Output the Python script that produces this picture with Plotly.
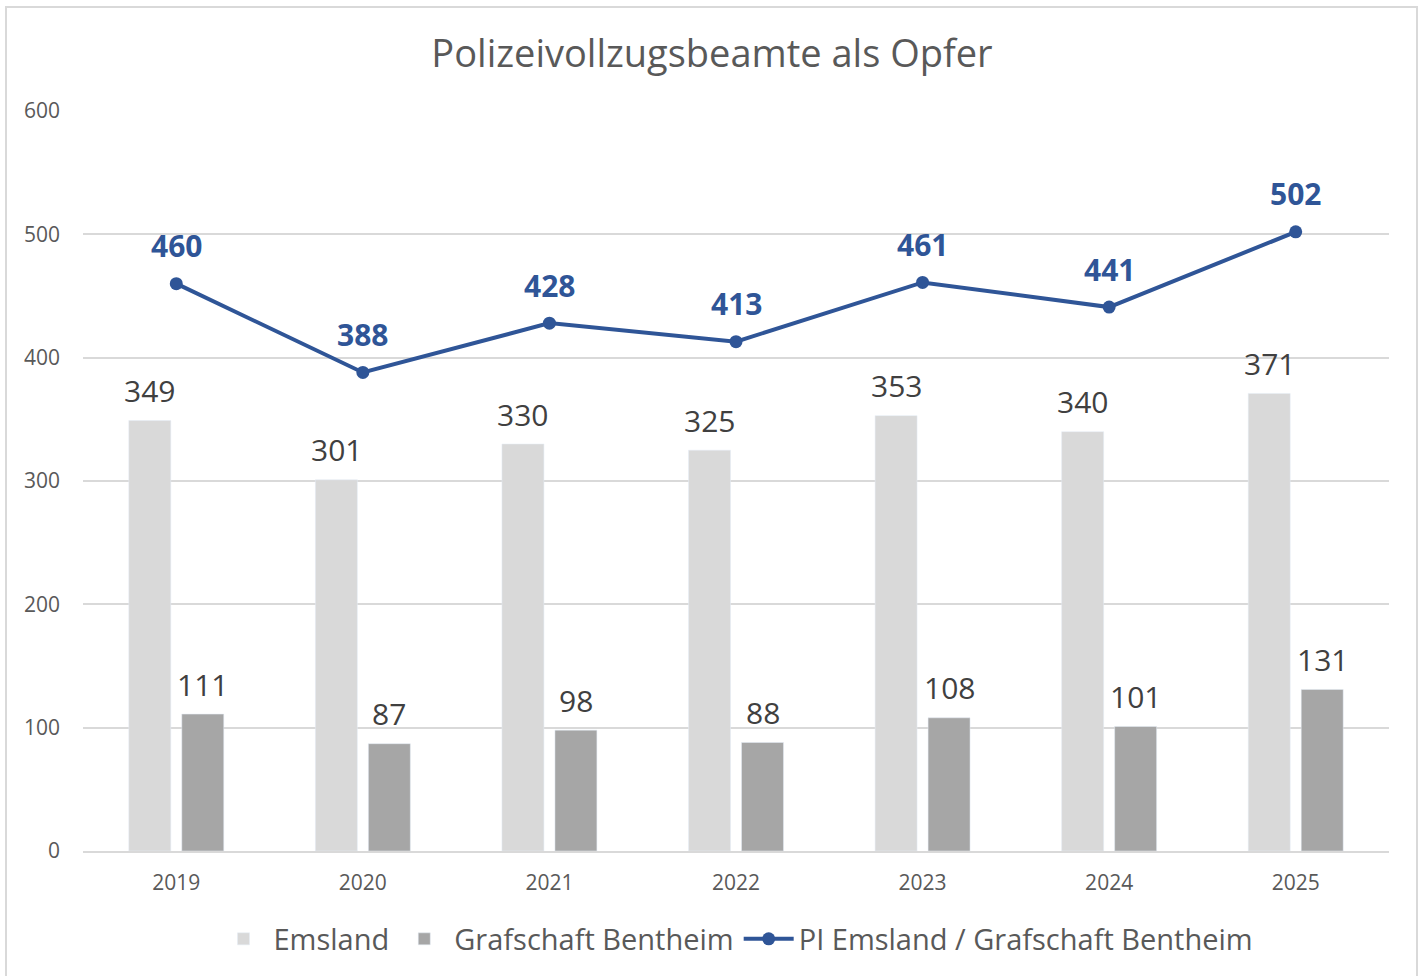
import plotly.graph_objects as go

years = ["2019", "2020", "2021", "2022", "2023", "2024", "2025"]
emsland = [349, 301, 330, 325, 353, 340, 371]
grafschaft = [111, 87, 98, 88, 108, 101, 131]
pi_total = [460, 388, 428, 413, 461, 441, 502]
y_ticks = [0, 100, 200, 300, 400, 500, 600]

FONT = "Open Sans"
W, H = 1424, 976
L, R, T, B = 83, 35, 111, 125
pw, ph = W - L - R, H - T - B

fig = go.Figure()
fig.add_trace(go.Bar(x=years, y=emsland, name="Emsland", marker_color="#D9D9D9"))
fig.add_trace(go.Bar(x=years, y=grafschaft, name="Grafschaft Bentheim", marker_color="#A6A6A6"))
fig.add_trace(go.Scatter(x=years, y=pi_total, name="PI Emsland / Grafschaft Bentheim",
                         mode="lines+markers", line=dict(color="#2F5597", width=4),
                         marker=dict(size=13, color="#2F5597")))

ann = []
for i, v in enumerate(emsland):
    ann.append(dict(x=i, y=v, xref="x", yref="y", text=str(v), showarrow=False,
                    xshift=-26.5, yshift=30, yanchor="middle",
                    font=dict(family=FONT, size=30, color="#404040")))
for i, v in enumerate(grafschaft):
    ann.append(dict(x=i, y=v, xref="x", yref="y", text=str(v), showarrow=False,
                    xshift=26.5, yshift=30, yanchor="middle",
                    font=dict(family=FONT, size=30, color="#404040")))
for i, v in enumerate(pi_total):
    ann.append(dict(x=i, y=v, xref="x", yref="y", text="<b>%d</b>" % v, showarrow=False,
                    yshift=38, yanchor="middle",
                    font=dict(family=FONT, size=30, color="#2F5597")))

fig.update_layout(
    width=W, height=H,
    margin=dict(l=L, r=R, t=T, b=B),
    paper_bgcolor="white", plot_bgcolor="white",
    barmode="group", bargap=0.432, bargroupgap=0.208,
    title=dict(text="Polizeivollzugsbeamte als Opfer", x=0.5, xanchor="center",
               y=1 - 54 / H, yanchor="middle",
               font=dict(family=FONT, size=38, color="#595959")),
    xaxis=dict(type="category", range=[-0.5, 6.5], showgrid=False, showline=True,
               linecolor="#D9D9D9", linewidth=2, ticks="", ticklen=0, ticklabelstandoff=12,
               tickfont=dict(family=FONT, size=21, color="#595959")),
    yaxis=dict(range=[0, 600], tickvals=y_ticks, showgrid=True, gridcolor="#D9D9D9",
               gridwidth=1.5, zeroline=False, showline=False, ticks="", ticklabelstandoff=22,
               tickfont=dict(family=FONT, size=21, color="#595959")),
    legend=dict(orientation="h", x=0.5, xanchor="center", y=-(939 - 851) / ph,
                yanchor="middle", font=dict(family=FONT, size=29, color="#595959"),
                itemwidth=50, traceorder="normal"),
    annotations=ann,
    shapes=[dict(type="rect", xref="paper", yref="paper",
                 x0=(6 - L) / pw, x1=(1417 - L) / pw,
                 y0=-(H + 5 - (H - B)) / ph, y1=1 + (T - 7) / ph,
                 line=dict(color="#D9D9D9", width=2), layer="below")],
)

fig.write_html("out.html", config={"displayModeBar": False},
               post_script="document.body.style.margin='0';document.body.style.overflow='hidden';")
